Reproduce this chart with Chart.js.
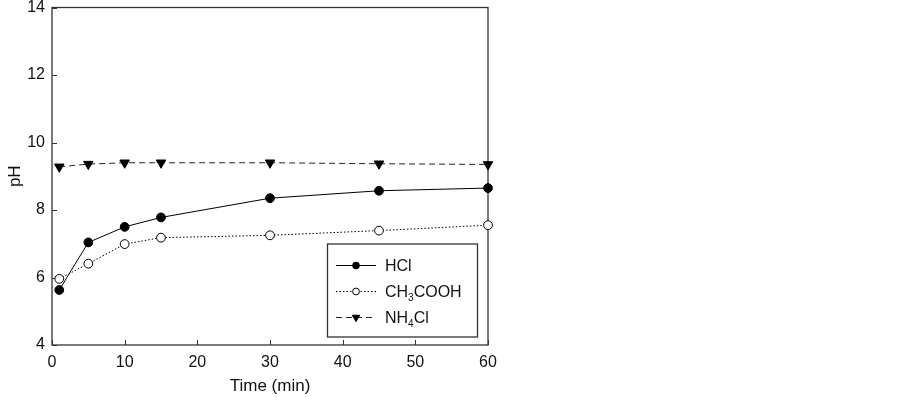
<!DOCTYPE html>
<html>
<head>
<meta charset="utf-8">
<script src="https://cdn.jsdelivr.net/npm/chart.js@4.4.1/dist/chart.umd.min.js"></script>
<style>
  html, body { margin: 0; padding: 0; background: #fff; }
  #wrap { position: relative; width: 903px; height: 397px; }
</style>
</head>
<body>
<div id="wrap"><canvas id="chartCanvas"></canvas></div>
<script>
// data
const timeMin = [1, 5, 10, 15, 30, 45, 60];
const phHCl = [5.63, 7.04, 7.50, 7.78, 8.35, 8.57, 8.65];
const phCH3COOH = [5.96, 6.41, 6.99, 7.18, 7.25, 7.39, 7.55];
const phNH4Cl = [9.28, 9.36, 9.40, 9.40, 9.40, 9.37, 9.35];
const seriesLabels = ['HCl', 'CH3COOH', 'NH4Cl'];
const xTicks = [0, 10, 20, 30, 40, 50, 60];
const yTicks = [4, 6, 8, 10, 12, 14];

const FONT = '"Liberation Sans", Arial, sans-serif';
Chart.defaults.font.family = FONT;
Chart.defaults.font.size = 16;
Chart.defaults.color = '#111';

function toPoints(ys) {
    return timeMin.map((t, i) => ({ x: t, y: ys[i] }));
}

// box around the plot plus inward tick marks
const frameAndTicks = {
    id: 'frameAndTicks',
    beforeDatasetsDraw(chart) {
        const { ctx, chartArea: a, scales } = chart;
        ctx.save();
        ctx.strokeStyle = '#333';
        ctx.lineWidth = 1.3;
        ctx.strokeRect(a.left, a.top, a.right - a.left, a.bottom - a.top);
        ctx.lineWidth = 1;
        ctx.beginPath();
        xTicks.forEach(v => {
            const px = Math.round(scales.x.getPixelForValue(v)) + 0.5;
            ctx.moveTo(px, a.bottom);
            ctx.lineTo(px, a.bottom - 5);
        });
        yTicks.forEach(v => {
            const py = Math.round(scales.y.getPixelForValue(v)) + 0.5;
            ctx.moveTo(a.left, py);
            ctx.lineTo(a.left + 5, py);
        });
        ctx.stroke();
        ctx.restore();
    }
};

function drawMarker(ctx, ds, x, y, r) {
    ctx.save();
    ctx.setLineDash([]);
    ctx.lineWidth = 1;
    ctx.strokeStyle = '#000';
    ctx.fillStyle = ds.pointBackgroundColor;
    ctx.beginPath();
    if (ds.pointStyle === 'triangle') {
        const h = r * 1.1;
        ctx.moveTo(x - h, y - h * 0.6);
        ctx.lineTo(x + h, y - h * 0.6);
        ctx.lineTo(x, y + h * 1.1);
        ctx.closePath();
    } else {
        ctx.arc(x, y, r, 0, Math.PI * 2);
    }
    ctx.fill();
    ctx.stroke();
    ctx.restore();
}

// legend with subscripts (digits in labels are drawn as subscripts)
const boxLegend = {
    id: 'boxLegend',
    afterDraw(chart) {
        const { ctx } = chart;
        const bx = 327.5, by = 244, bw = 150, bh = 93;
        ctx.save();
        ctx.fillStyle = '#fff';
        ctx.fillRect(bx, by, bw, bh);
        ctx.strokeStyle = '#333';
        ctx.lineWidth = 1.3;
        ctx.strokeRect(bx, by, bw, bh);
        chart.data.datasets.forEach((ds, i) => {
            const y = 265 + i * 26;
            ctx.strokeStyle = ds.borderColor;
            ctx.lineWidth = 1;
            ctx.setLineDash(ds.borderDash || []);
            ctx.beginPath();
            ctx.moveTo(336, y + 0.5);
            ctx.lineTo(376, y + 0.5);
            ctx.stroke();
            drawMarker(ctx, ds, 356, y + 0.5, 3.4);
            let tx = 385;
            ds.label.split(/(\d+)/).forEach(part => {
                if (!part) return;
                const sub = /^\d+$/.test(part);
                ctx.font = (sub ? 10 : 16) + 'px ' + FONT;
                ctx.fillStyle = '#111';
                ctx.textBaseline = 'alphabetic';
                ctx.fillText(part, tx, y + 6 + (sub ? 4 : 0));
                tx += ctx.measureText(part).width;
            });
        });
        ctx.restore();
    }
};

const config = {
    type: 'line',
    data: {
        datasets: [
            {
                label: seriesLabels[0],
                data: toPoints(phHCl),
                borderColor: '#000',
                borderWidth: 1,
                pointStyle: 'circle',
                pointRadius: 4.4,
                pointBackgroundColor: '#000',
                pointBorderColor: '#000',
                clip: false
            },
            {
                label: seriesLabels[1],
                data: toPoints(phCH3COOH),
                borderColor: '#000',
                borderWidth: 1,
                borderDash: [1.5, 2],
                pointStyle: 'circle',
                pointRadius: 4.4,
                pointBackgroundColor: '#fff',
                pointBorderColor: '#000',
                pointBorderWidth: 1,
                clip: false
            },
            {
                label: seriesLabels[2],
                data: toPoints(phNH4Cl),
                borderColor: '#222',
                borderWidth: 1,
                borderDash: [6, 4],
                pointStyle: 'triangle',
                pointRotation: 180,
                pointRadius: 5.5,
                pointBackgroundColor: '#000',
                pointBorderColor: '#000',
                clip: false
            }
        ]
    },
    options: {
        responsive: true,
        maintainAspectRatio: false,
        animation: false,
        layout: { padding: { top: 0, right: 415, left: 0, bottom: 0 } },
        plugins: { legend: { display: false }, tooltip: { enabled: false } },
        scales: {
            x: {
                type: 'linear',
                min: 0,
                max: 60,
                afterFit: s => { s.height = 52; },
                afterBuildTicks: s => { s.ticks = xTicks.map(v => ({ value: v })); },
                grid: { display: false, drawTicks: false },
                border: { display: false },
                ticks: { padding: 8, maxRotation: 0 },
                title: { display: true, text: 'Time (min)', font: { size: 17 }, padding: { top: 0, bottom: 0 } }
            },
            y: {
                type: 'linear',
                min: 4,
                max: 14,
                afterFit: s => { s.width = 52; s.paddingTop = 7.5; },
                afterBuildTicks: s => { s.ticks = yTicks.map(v => ({ value: v })); },
                grid: { display: false, drawTicks: false },
                border: { display: false },
                ticks: { padding: 7 },
                title: { display: true, text: 'pH', font: { size: 17 }, padding: { top: 5, bottom: 0 } }
            }
        }
    },
    plugins: [frameAndTicks, boxLegend]
};

new Chart(document.getElementById('chartCanvas').getContext('2d'), config);
</script>
</body>
</html>
